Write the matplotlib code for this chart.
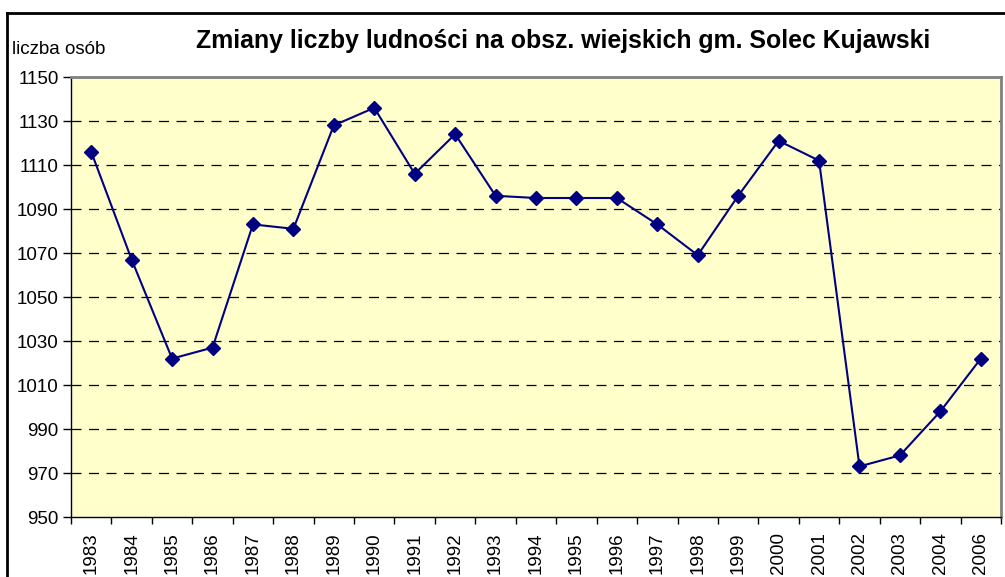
import numpy as np
import matplotlib
matplotlib.use("Agg")
import matplotlib.pyplot as plt
from matplotlib.lines import Line2D

plt.rcParams['font.family'] = ['Liberation Sans', 'DejaVu Sans']

# dane
years = ["1983", "1984", "1985", "1986", "1987", "1988", "1989", "1990",
         "1991", "1992", "1993", "1994", "1995", "1996", "1997", "1998",
         "1999", "2000", "2001", "2002", "2003", "2004", "2006"]
ludnosc = [1116, 1067, 1022, 1027, 1083, 1081, 1128, 1136,
           1106, 1124, 1096, 1095, 1095, 1095, 1083, 1069,
           1096, 1121, 1112, 973, 978, 998, 1022]
yticks = [950, 970, 990, 1010, 1030, 1050, 1070, 1090, 1110, 1130, 1150]

fig = plt.figure(figsize=(10.05, 5.77), dpi=100)
ax = fig.add_axes([71/1005, 60/577, 930/1005, 440/577])
ax.set_facecolor("#FFFFCC")

x = np.arange(len(years))
ax.plot(x, ludnosc, color="#000080", linewidth=1.5, marker="D",
        markersize=7.5, markerfacecolor="#000080", markeredgecolor="#000080",
        zorder=3)

ax.set_xlim(-0.5, len(years) - 0.5)
ax.set_ylim(950, 1150)
ax.set_yticks(yticks)
ax.set_yticklabels([str(v) for v in yticks], fontsize=13.5)
ax.set_xticks(x)
ax.set_xticklabels(years, rotation=90, fontsize=13.5)
ax.set_xticks(np.arange(-0.5, len(years)), minor=True)
ax.tick_params(axis="x", which="major", length=0, pad=11)
ax.tick_params(axis="x", which="minor", length=5, width=1, direction="out")
ax.tick_params(axis="y", length=6, width=1, direction="out", pad=3)

for v in yticks[1:-1]:
    ax.axhline(v, color="black", linewidth=0.9, dashes=(8, 6), zorder=1)

for s in ["top", "right"]:
    ax.spines[s].set_color("#808080")
    ax.spines[s].set_linewidth(2)
for s in ["left", "bottom"]:
    ax.spines[s].set_color("black")
    ax.spines[s].set_linewidth(1)

fig.text(563/1005, 1 - 41/577, "Zmiany liczby ludności na obsz. wiejskich gm. Solec Kujawski",
         ha="center", va="center", fontsize=17.9, fontweight="bold")
fig.text(12/1005, 1 - 49/577, "liczba osób", ha="left", va="center", fontsize=13.5)

# ramka wykresu
fig.add_artist(Line2D([7/1005, 7/1005], [0, 1 - 13/577], color="black", linewidth=2,
                      transform=fig.transFigure))
fig.add_artist(Line2D([7/1005, 1], [1 - 13/577, 1 - 13/577], color="black", linewidth=2,
                      transform=fig.transFigure))

plt.savefig("out.png", dpi=100)
